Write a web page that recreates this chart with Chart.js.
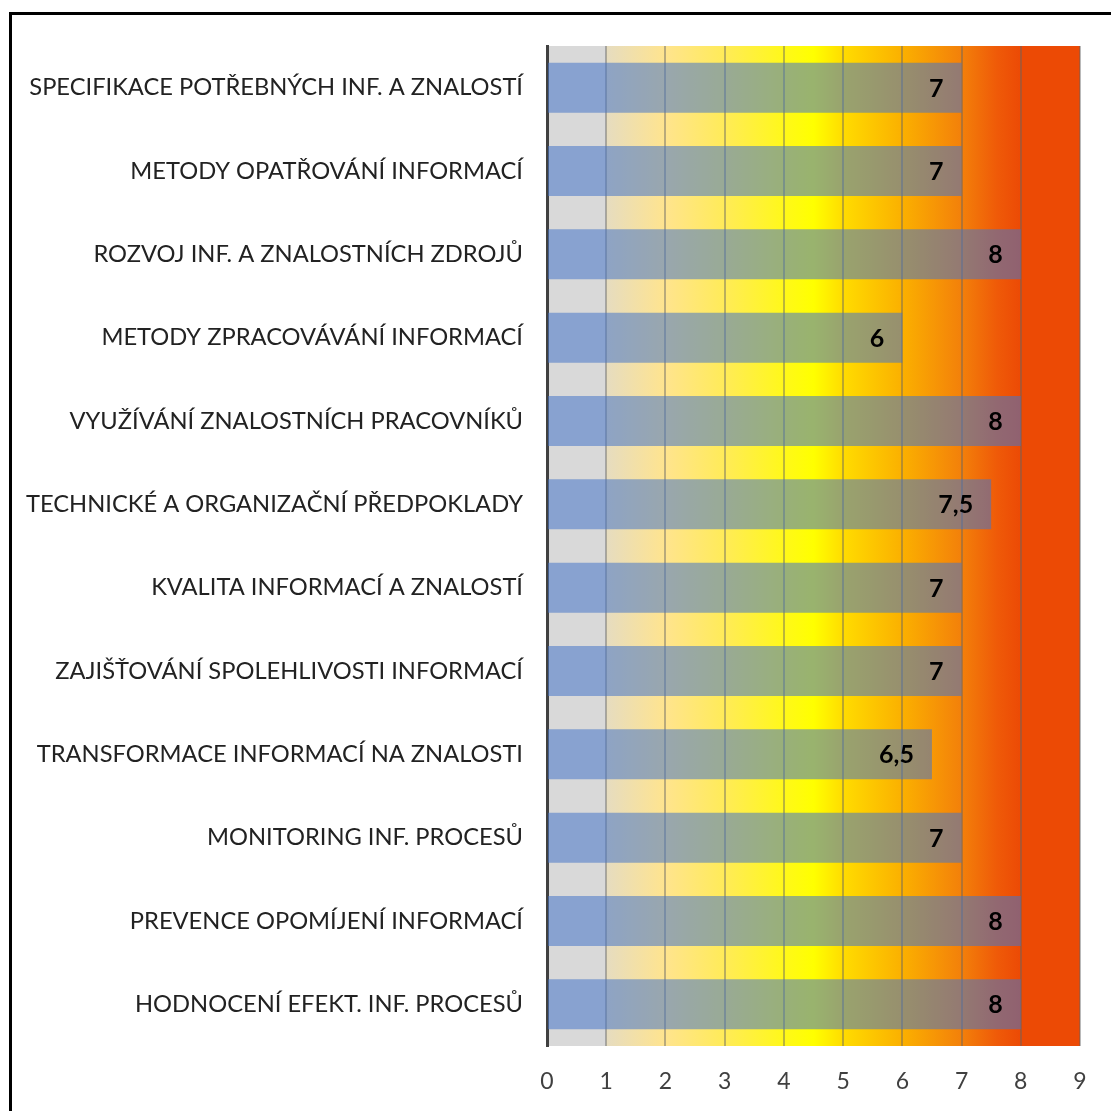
<!DOCTYPE html>
<html>
<head>
<meta charset="utf-8">
<script src="https://cdn.jsdelivr.net/npm/chart.js@4/dist/chart.umd.min.js"></script>
<style>
  html, body { margin: 0; padding: 0; background: #fff; overflow: hidden; }
  #frame { position: absolute; left: 9px; top: 12px; width: 1200px; height: 1200px; border: 3px solid #000; }
  #wrap { position: absolute; left: 0; top: 0; width: 1111px; height: 1111px; }
</style>
</head>
<body>
<div id="frame"></div>
<div id="wrap"><canvas id="chart" width="1111" height="1111"></canvas></div>
<script>
const categories = [
  'SPECIFIKACE POTŘEBNÝCH INF. A ZNALOSTÍ',
  'METODY OPATŘOVÁNÍ INFORMACÍ',
  'ROZVOJ INF. A ZNALOSTNÍCH ZDROJŮ',
  'METODY ZPRACOVÁVÁNÍ INFORMACÍ',
  'VYUŽÍVÁNÍ ZNALOSTNÍCH PRACOVNÍKŮ',
  'TECHNICKÉ A ORGANIZAČNÍ PŘEDPOKLADY',
  'KVALITA INFORMACÍ A ZNALOSTÍ',
  'ZAJIŠŤOVÁNÍ SPOLEHLIVOSTI INFORMACÍ',
  'TRANSFORMACE INFORMACÍ NA ZNALOSTI',
  'MONITORING INF. PROCESŮ',
  'PREVENCE OPOMÍJENÍ INFORMACÍ',
  'HODNOCENÍ EFEKT. INF. PROCESŮ'
];
const scores = [7, 7, 8, 6, 8, 7.5, 7, 7, 6.5, 7, 8, 8];
const axisMin = 0;
const axisMax = 9;

// background colour band along the value axis
const zoneStops = [
  [0, '#d9d9d9'], [1, '#d9d9d9'], [1.001, '#e6dcc0'], [2, '#ffe48e'],
  [3, '#ffeb58'], [4, '#fff81a'], [4.5, '#ffff00'], [5, '#ffdc00'],
  [6, '#fbb000'], [7, '#f3800a'], [7.6, '#ef5a08'], [8, '#ec4a05'], [9, '#ec4a05']
];

const zoneFill = {
  id: 'zoneFill',
  beforeDraw(chart) {
    const { ctx, chartArea: a, scales: { x } } = chart;
    const x0 = x.getPixelForValue(axisMin), x1 = x.getPixelForValue(axisMax);
    const g = ctx.createLinearGradient(x0, 0, x1, 0);
    zoneStops.forEach(([v, c]) => g.addColorStop((v - axisMin) / (axisMax - axisMin), c));
    ctx.save();
    ctx.fillStyle = g;
    ctx.fillRect(a.left, a.top, a.right - a.left, a.bottom - a.top);
    ctx.restore();
  }
};

const valueLabels = {
  id: 'valueLabels',
  afterDatasetsDraw(chart) {
    const { ctx } = chart;
    const meta = chart.getDatasetMeta(0);
    ctx.save();
    ctx.font = 'bold 25px Lato';
    ctx.fillStyle = '#000';
    ctx.textAlign = 'right';
    ctx.textBaseline = 'middle';
    meta.data.forEach((bar, i) => {
      ctx.fillText(String(scores[i]).replace('.', ','), bar.x - 18, bar.y + 1);
    });
    ctx.restore();
  }
};

new Chart(document.getElementById('chart'), {
  type: 'bar',
  data: {
    labels: categories,
    datasets: [{
      data: scores,
      backgroundColor: 'rgba(70,116,200,0.55)',
      borderWidth: 0,
      categoryPercentage: 1,
      barPercentage: 0.6
    }]
  },
  options: {
    indexAxis: 'y',
    responsive: false,
    animation: false,
    layout: { padding: { top: 46, right: 31, left: 0, bottom: 0 } },
    plugins: { legend: { display: false }, tooltip: { enabled: false } },
    scales: {
      x: {
        min: axisMin,
        max: axisMax,
        ticks: { stepSize: 1, padding: 22, color: '#404040', font: { family: 'Lato', size: 23 } },
        grid: { color: 'rgba(100,100,100,0.45)', lineWidth: 2, drawTicks: false },
        border: { display: false },
        afterFit(scale) { scale.height = 65; }
      },
      y: {
        ticks: { padding: 24, color: '#222', font: { family: 'Lato', size: 23.7 } },
        grid: { display: false, drawTicks: false },
        border: { display: true, color: '#404040', width: 3 },
        afterFit(scale) { scale.width = 547; }
      }
    }
  },
  plugins: [zoneFill, valueLabels]
});
</script>
</body>
</html>
